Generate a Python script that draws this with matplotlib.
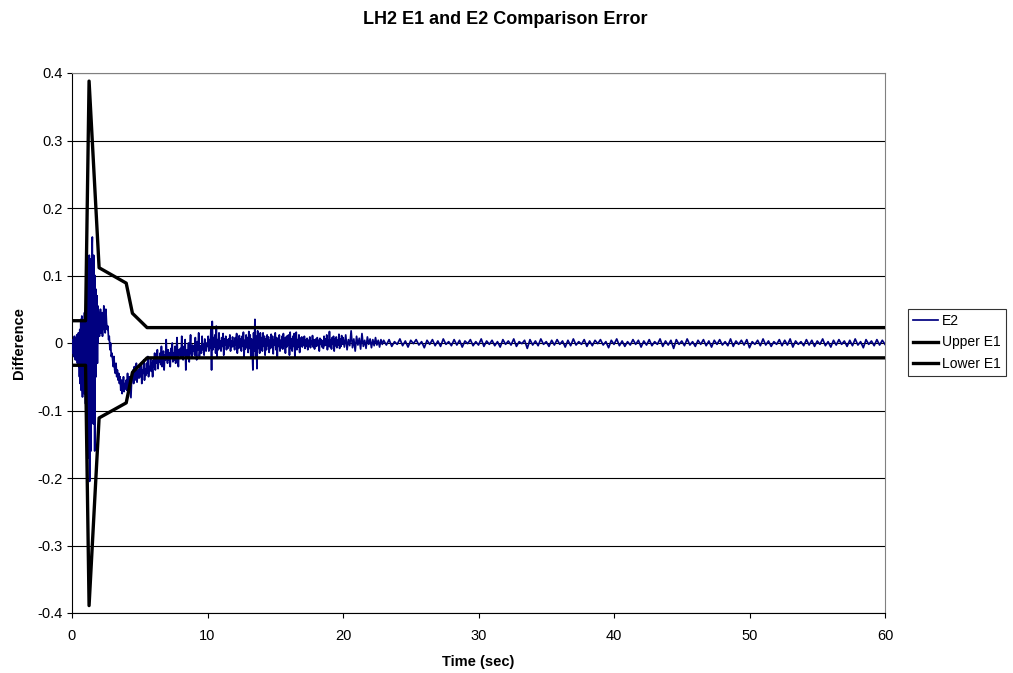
import numpy as np
import matplotlib
matplotlib.use("Agg")
import matplotlib.pyplot as plt

plt.rcParams['font.family'] = ['Liberation Sans', 'DejaVu Sans']

# ---- Data (values in thousandths) ----
# E2 segment A: t = 0 .. 2.475, step 0.025
e2_seg_a = [
    0, -8, 5, -15, 2, -20, -3, 10, -12, 4, -25, -6, 8, -18, 12, -10, -30, 5, -22, 15,
    -35, 10, -50, 20, -60, -15, 35, -70, -25, 40, -55, -80, 30, -40, -65, 15, -75, 45, -50, 25,
    -90, 60, -120, 100, -60, 120, -150, 80, -170, 110, -100, 130, -205, 70, -140, 95, -160, 125, -80, 140,
    157, -60, 110, -120, 130, -40, 90, -160, 100, -20, 80, -50, 60, 10, 70, -30, 55, 0, 40, 15,
    45, 10, 35, 25, 50, 15, 40, 20, 30, 45, 10, 35, 25, 40, 55, 20, 30, 45, 15, 35,
]
# E2 segment B: t = 2.5 .. 9.95, step 0.05
e2_seg_b = [
    50, 30, 20, 25, 5, 10, -10, 0, -20, -15,
    -25, -35, -20, -40, -45, -30, -50, -40, -55, -45,
    -60, -50, -70, -55, -75, -65, -50, -72, -60, -68,
    -55, -70, -45, -80, -60, -50, -65, -81, -55, -45,
    -40, -60, -35, -55, -50, -30, -58, -45, -40, -52,
    -35, -50, -30, -60, -40, -45, -25, -55, -38, -48,
    -30, -45, -20, -50, -35, -40, -22, -42, -30, -50,
    -25, -35, -15, -40, -20, -30, -10, -38, -22, -28,
    -15, -32, -5, -35, -20, -12, -40, -18, -25, 5,
    -20, -30, -10, -25, -15, -35, -8, -22, 0, -28,
    -15, -25, -5, -30, -12, 8, -20, -35, -10, -18,
    -8, -22, 10, -15, -25, -5, -18, 5, -40, -12,
    -10, -20, 0, -28, -6, 12, -15, -22, -3, -12,
    -5, -18, 8, -12, -25, 2, -10, 15, -20, -8,
    -4, -15, 10, -10, -2, -18, 6, -8, -12, 0,
]
# E2 segment C: t = 10 .. 19.95, step 0.05
e2_seg_c = [
    -5, 10, -12, 5, -8, 20, -40, 32, -10, 8,
    -6, 12, -15, 25, -20, 5, -10, 15, -8, 3,
    -12, 8, -5, 14, -18, 6, -3, 10, -10, 4,
    -8, 6, -4, 12, -12, 3, -6, 9, -5, 2,
    -10, 8, -3, 14, -15, 5, -8, 11, -4, 6,
    -12, 10, -5, 16, -20, 4, -9, 12, -6, 8,
    -14, 17, -8, 12, -22, 6, -10, -40, 15, -12,
    35, -20, 10, -38, 18, -8, 12, -15, 15, -6,
    8, -12, 15, -5, 10, -18, 6, -10, 12, -4,
    9, -14, 4, -8, 13, -6, 10, -16, 5, -3,
    15, -10, 8, -20, 6, -5, 12, -12, 4, -7,
    10, -9, 14, -4, 7, -15, 9, -6, 11, -3,
    12, -18, 16, -8, 6, -12, 10, -5, 14, -22,
    8, 16, -10, 5, -6, 12, -14, 7, -4, 9,
    -6, 8, -3, 10, -8, 5, -5, 7, -10, 4,
    -4, 9, -7, 3, -2, 11, -6, 5, -9, 2,
    6, -5, 8, -3, 4, -12, 7, -2, 5, -6,
    3, -8, 10, -4, 6, -3, 12, -10, 4, -5,
    17, -6, 5, -9, 8, -2, 10, -12, 6, -4,
    9, -7, 4, -3, 13, -8, 6, -5, 11, -2,
]
# E2 segment D: t = 20 .. 22.9, step 0.1
e2_seg_d = [
    8, -6, 12, -10, 5, -4, 18, -7, 6, -12, 10, -3, 7, -9, 14,
    -5, 4, -8, 9, -2, 6, -7, 5, -4, 8, -3, 4, -6, 5, -2,
]
# E2 segment E: t = 23 .. 60, step 0.2
e2_seg_e = [
    4, -3, 5, -5, 2, -2, 6, -4, 3, -6, 4, -1, 5, -3, 2, -7, 4, -2, 5, -4,
    3, -5, 6, -2, 2, -4, 5, -3, 4, -6, 3, -1, 5, -4, 2, -3, 6, -5, 3, -2,
    4, -4, 2, -6, 5, -2, 3, -3, 6, -5, 2, -1, 4, -8, 5, -3, 3, -4, 6, -2,
    2, -5, 4, -3, 5, -2, 3, -6, 4, -4, 6, -3, 2, -2, 5, -5, 3, -4, 4, -1,
    5, -3, 2, -7, 4, -2, 6, -4, 3, -5, 2, -3, 5, -2, 4, -6, 3, -3, 5, -4,
    2, -2, 6, -5, 3, -3, 4, -8, 5, -2, 3, -4, 6, -3, 2, -5, 4, -2, 5, -4,
    3, -6, 4, -2, 5, -3, 2, -4, 6, -5, 3, -2, 4, -3, 5, -7, 2, -2, 4, -4,
    6, -3, 3, -5, 2, -2, 5, -4, 4, -3, 6, -6, 3, -2, 2, -4, 5, -3, 4, -5,
    3, -2, 6, -4, 2, -6, 4, -3, 5, -2, 3, -5, 4, -4, 6, -3, 2, -7, 5, -2,
    3, -4, 5, -3, 4, -2,
]
seg_starts = [0.0, 2.5, 10.0, 20.0, 23.0]
seg_steps = [0.025, 0.05, 0.05, 0.1, 0.2]

# E1 bounds
e1_time = [0.0, 1.0, 1.26, 2.0, 4.0, 4.46, 5.54, 60.0]
upper_e1 = [0.033, 0.033, 0.388, 0.1115, 0.0887, 0.044, 0.0228, 0.0228]
lower_e1 = [-0.033, -0.033, -0.389, -0.111, -0.0887, -0.0435, -0.022, -0.022]

x_ticks = [0, 10, 20, 30, 40, 50, 60]
y_ticks = [-0.4, -0.3, -0.2, -0.1, 0, 0.1, 0.2, 0.3, 0.4]
y_tick_labels = ["-0.4", "-0.3", "-0.2", "-0.1", "0", "0.1", "0.2", "0.3", "0.4"]

# ---- Build E2 series ----
segs = [e2_seg_a, e2_seg_b, e2_seg_c, e2_seg_d, e2_seg_e]
t_all, v_all = [], []
for vals, t0, dt in zip(segs, seg_starts, seg_steps):
    t_all.extend(t0 + dt * np.arange(len(vals)))
    v_all.extend(np.array(vals) / 1000.0)
t_all = np.array(t_all)
v_all = np.array(v_all)

# ---- Plot ----
fig = plt.figure(figsize=(10.13, 6.73), dpi=100)
ax = fig.add_axes([72 / 1013, 1 - 613 / 673, (885 - 72) / 1013, (613 - 73) / 673])

ax.set_xlim(0, 60)
ax.set_ylim(-0.4, 0.4)
ax.set_yticks(y_ticks)
ax.set_yticklabels(y_tick_labels)
ax.set_xticks(x_ticks)
ax.yaxis.grid(True, color='black', linewidth=0.8)
ax.set_axisbelow(True)

ax.plot(t_all, v_all, color='#000080', linewidth=1.25, label='E2', zorder=3)
ax.plot(e1_time, upper_e1, color='black', linewidth=2.4, label='Upper E1', zorder=4)
ax.plot(e1_time, lower_e1, color='black', linewidth=2.4, label='Lower E1', zorder=4)

for side in ['top', 'right']:
    ax.spines[side].set_color('#808080')
    ax.spines[side].set_linewidth(0.8)
for side in ['left', 'bottom']:
    ax.spines[side].set_color('black')
    ax.spines[side].set_linewidth(0.8)

ax.tick_params(axis='both', direction='out', length=3.5, width=0.8, labelsize=10.5,
               colors='black')
ax.tick_params(axis='y', pad=3.5)
ax.tick_params(axis='x', pad=8)

ax.set_xlabel('Time (sec)', fontsize=10.5, fontweight='bold', labelpad=9)
ax.set_ylabel('Difference', fontsize=10.5, fontweight='bold', labelpad=8)
fig.text(505 / 1013, 1 - 20 / 673, 'LH2 E1 and E2 Comparison Error', ha='center', va='center',
         fontsize=13, fontweight='bold')

leg = ax.legend(loc='upper left', bbox_to_anchor=(908 / 1013, 1 - 309 / 673),
                bbox_transform=fig.transFigure, frameon=True, fancybox=False,
                edgecolor='black', fontsize=10, handlelength=1.8, handletextpad=0.3,
                borderpad=0.35, labelspacing=0.55, borderaxespad=0)
leg.get_frame().set_linewidth(0.8)

fig.savefig('out.png', dpi=100)
